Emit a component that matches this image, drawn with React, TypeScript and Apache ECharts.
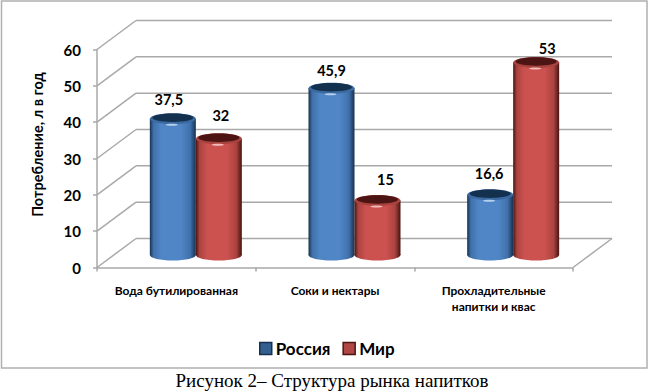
import React, { useEffect, useRef } from "react";
import * as echarts from "echarts";

const categories = ["Вода бутилированная", "Соки и нектары", "Прохладительные\nнапитки и квас"];
const russia = [37.5, 45.9, 16.6];
const world = [32, 15, 53];
const yTicks = [0, 10, 20, 30, 40, 50, 60];
const axisTitle = "Потребление, л в год";
const caption = "Рисунок 2– Структура рынка напитков";
const labelNudgeRussia = [[-4, -19], [0, -18], [-1, -21]];
const labelNudgeWorld = [[2, -23], [8, -21], [11, -14]];

const FONT = "Lato";
const DEPTH_X = 39;
const DEPTH_Y = 29;
const GRID = "#a9a9a9";
const BAR_W = 46;

const blue = { edge: "#17314f", mid: "#3f70aa", light: "#5086c6", top: "#14304f", rim: "#3b6aa0", glow: "#cfe3fa" };
const red = { edge: "#451412", mid: "#ab4340", light: "#cc5250", top: "#4c1412", rim: "#a8423f", glow: "#fbd6d4" };

function grad(c: typeof blue) {
  return new echarts.graphic.LinearGradient(0, 0, 1, 0, [
    { offset: 0, color: c.edge },
    { offset: 0.08, color: c.mid },
    { offset: 0.25, color: c.light },
    { offset: 0.68, color: c.light },
    { offset: 0.88, color: c.mid },
    { offset: 1, color: c.edge },
  ]);
}

function cylinder(c: typeof blue, seriesIdx: number, nudges: number[][]) {
  return (params: any, api: any) => {
    const cat = api.value(0);
    const val = api.value(1);
    const top = api.coord([cat, val]);
    const base = api.coord([cat, 0]);
    const cx = top[0] + 19.5 + (seriesIdx === 0 ? -23 : 23);
    const yT = top[1] - 12.5;
    const yB = base[1] - 12.5;
    const rx = BAR_W / 2;
    const fill = grad(c);
    const n = nudges[params.dataIndex];
    return {
      type: "group",
      children: [
        { type: "ellipse", shape: { cx, cy: yB, rx, ry: 5.5 }, style: { fill } },
        { type: "rect", shape: { x: cx - rx, y: yT, width: BAR_W, height: yB - yT }, style: { fill } },
        { type: "ellipse", shape: { cx, cy: yT, rx, ry: 5.5 }, style: { fill: c.rim } },
        { type: "ellipse", shape: { cx, cy: yT - 1, rx: rx - 2.5, ry: 4.2 }, style: { fill: c.top } },
        { type: "ellipse", shape: { cx: cx - 1, cy: yT + 6, rx: 6, ry: 1 }, style: { fill: c.glow, opacity: 0.8 } },
        {
          type: "text",
          style: {
            text: String(val).replace(".", ","),
            x: cx + n[0],
            y: yT + n[1],
            align: "center",
            verticalAlign: "middle",
            fill: "#000",
            font: `bold 14.5px ${FONT}`,
          },
        },
      ],
    };
  };
}

function walls(params: any, api: any) {
  const v = api.value(0);
  const p = api.coord([0, v]);
  const cs = params.coordSys;
  const style = { stroke: GRID, lineWidth: 1.5 };
  const x0 = cs.x;
  const y = p[1];
  const bx0 = x0 + DEPTH_X;
  const bx1 = cs.x + cs.width + DEPTH_X;
  const children: any[] = [
    { type: "line", shape: { x1: x0, y1: y, x2: bx0, y2: y - DEPTH_Y }, style },
    { type: "line", shape: { x1: bx0, y1: y - DEPTH_Y, x2: bx1, y2: y - DEPTH_Y }, style },
  ];
  if (v === 0) {
    children.push({
      type: "line",
      shape: { x1: cs.x + cs.width, y1: y, x2: bx1, y2: y - DEPTH_Y },
      style,
    });
  }
  return { type: "group", children };
}

export default function App() {
  const ref = useRef<HTMLDivElement>(null);
  useEffect(() => {
    const chart = echarts.init(ref.current!, null, { renderer: "svg" });
    chart.setOption({
      animation: false,
      backgroundColor: "#fff",
      grid: { left: 97, top: 49.5, width: 476, height: 218 },
      legend: {
        left: 254,
        top: 335,
        itemGap: 12,
        itemWidth: 12,
        itemHeight: 12,
        icon: "rect",
        textStyle: { fontFamily: FONT, fontWeight: "bold", fontSize: 17, color: "#000", padding: [0, 0, 0, -1] },
        data: [
          { name: "Россия", itemStyle: { color: "#34608f", borderColor: "#16304f", borderWidth: 1.5 } },
          { name: "Мир", itemStyle: { color: "#b04744", borderColor: "#4a1513", borderWidth: 1.5 } },
        ],
      },
      xAxis: {
        type: "category",
        data: categories,
        boundaryGap: true,
        axisLine: { lineStyle: { color: GRID, width: 1.5 } },
        axisTick: { show: true, alignWithLabel: false, length: 4, lineStyle: { color: GRID, width: 1.5 } },
        axisLabel: { color: "#000", fontFamily: FONT, fontWeight: "bold", fontSize: 12, margin: 15, lineHeight: 16, interval: 0 },
      },
      yAxis: {
        type: "value",
        min: 0,
        max: 60,
        interval: 10,
        name: axisTitle,
        nameLocation: "middle",
        nameGap: 52,
        nameRotate: 90,
        nameTextStyle: { color: "#000", fontFamily: FONT, fontWeight: "bold", fontSize: 14.5, padding: [0, 0, 0, 28] },
        splitLine: { show: false },
        axisLine: { show: true, lineStyle: { color: GRID, width: 1.5 } },
        axisTick: { show: true, length: 4, lineStyle: { color: GRID, width: 1.5 } },
        axisLabel: { color: "#000", fontFamily: FONT, fontWeight: "bold", fontSize: 15, margin: 16 },
      },
      series: [
        {
          type: "custom",
          name: "walls",
          silent: true,
          z: 1,
          renderItem: walls,
          encode: { y: 0 },
          data: yTicks.map((v) => [v]),
        },
        {
          type: "custom",
          name: "Россия",
          z: 2,
          renderItem: cylinder(blue, 0, labelNudgeRussia),
          encode: { x: 0, y: 1 },
          itemStyle: { color: "#34608f" },
          data: russia.map((v, i) => [i, v]),
        },
        {
          type: "custom",
          name: "Мир",
          z: 3,
          renderItem: cylinder(red, 1, labelNudgeWorld),
          encode: { x: 0, y: 1 },
          itemStyle: { color: "#b04744" },
          data: world.map((v, i) => [i, v]),
        },
      ],
      graphic: [
        {
          type: "rect",
          silent: true,
          z: 0,
          shape: { x: 1.5, y: 1, width: 645.5, height: 367 },
          style: { fill: "none", stroke: "#b0b0b0", lineWidth: 1.5 },
        },
        {
          type: "text",
          silent: true,
          x: 332,
          y: 380,
          style: { text: caption, fill: "#000", font: "19px 'Liberation Serif'", align: "center", verticalAlign: "middle" },
        },
      ],
    });
    return () => chart.dispose();
  }, []);
  return <div ref={ref} style={{ position: "absolute", left: 0, top: 0, width: 649, height: 391 }} />;
}
